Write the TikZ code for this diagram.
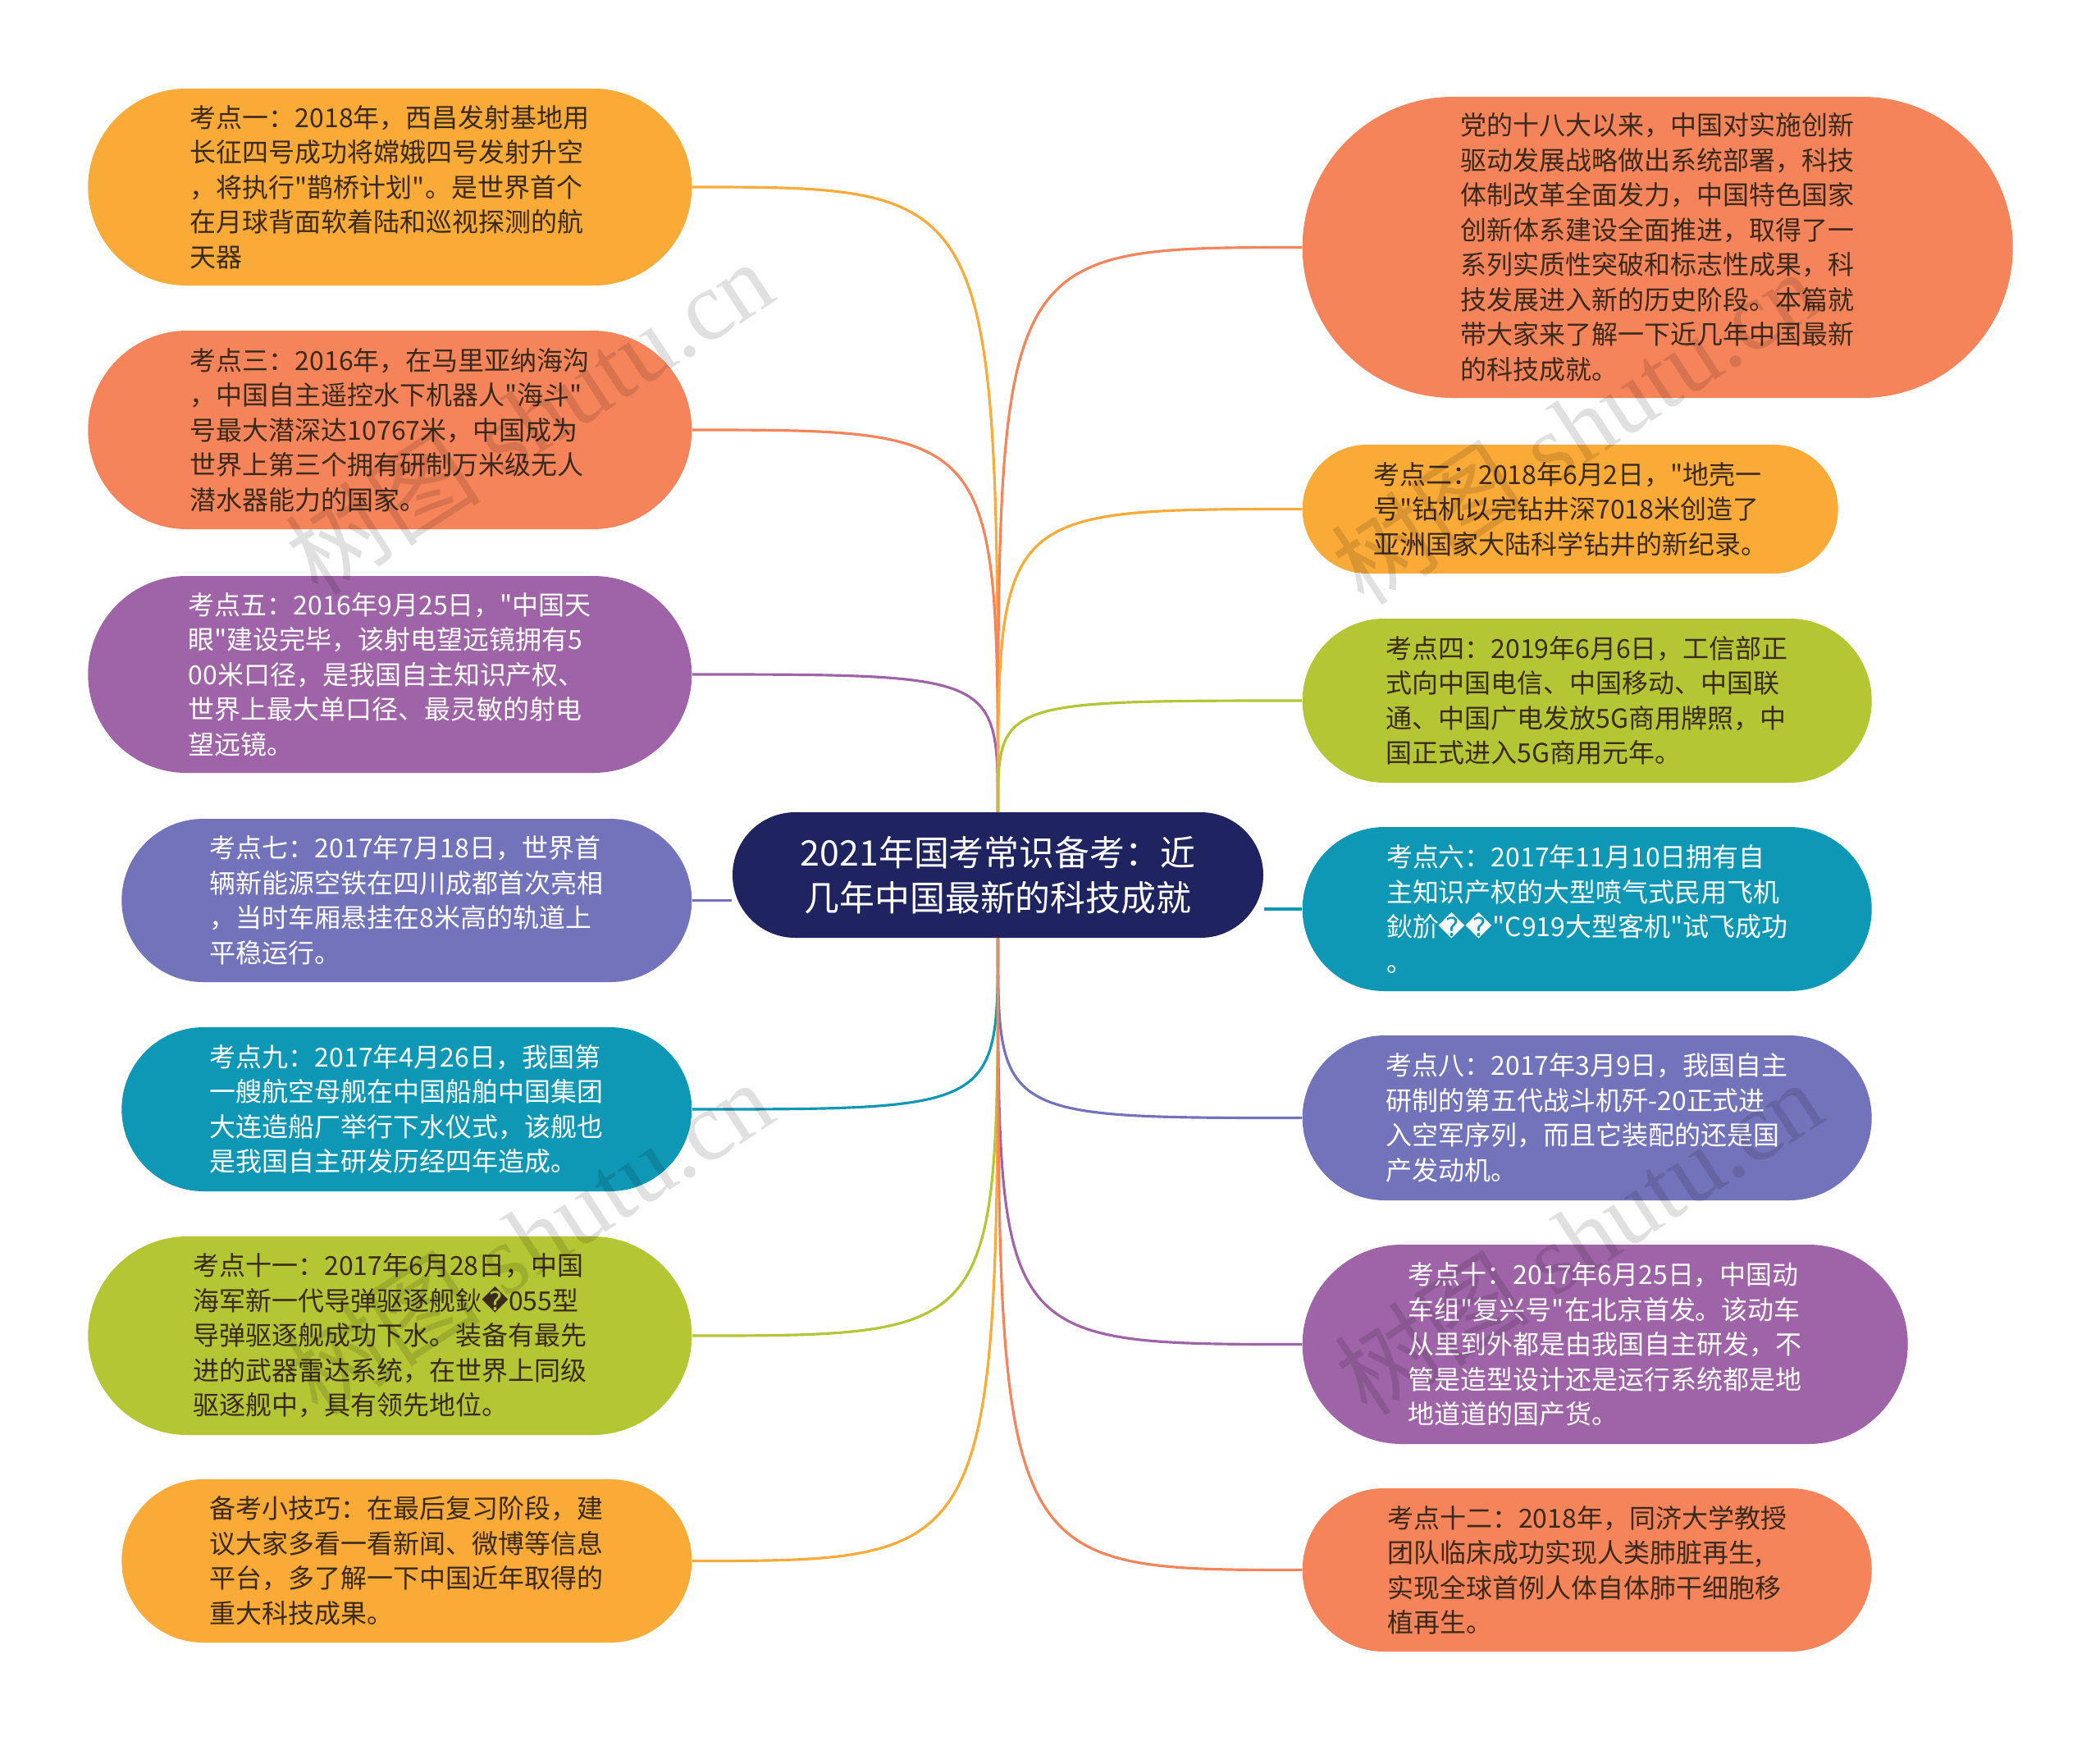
\documentclass[tikz,border=0pt]{standalone}
\usepackage{fontspec}
\setmainfont{Noto Sans CJK SC}[Ligatures=TeXOff]
\newfontfamily\replfont{DejaVu Sans}
\newfontfamily\wmfont{Liberation Serif}
\usetikzlibrary{shapes.misc}

\definecolor{kOrange}{HTML}{F9AA37}
\definecolor{kCoral}{HTML}{F5845A}
\definecolor{kPurple}{HTML}{9F64A8}
\definecolor{kLav}{HTML}{7373BB}
\definecolor{kTeal}{HTML}{0F98B5}
\definecolor{kLime}{HTML}{B4C633}
\definecolor{kNavy}{HTML}{1F2461}
\definecolor{kInk}{HTML}{3A2A1C}
\newcommand{\repchar}{{\replfont\char"FFFD}}

\begin{document}
\begin{tikzpicture}[
  leaf/.style={shape=rounded rectangle,inner sep=0pt,align=left,
    font=\fontsize{9.1pt}{12.1pt}\selectfont},
  wire/.style={line width=0.9pt}]
  \fill[white] (0,0) rectangle (25.6,-21.21);

  \node[shape=rounded rectangle,fill=kNavy,text=white,align=center,
    minimum width=6.47cm,minimum height=1.53cm,inner sep=0pt,
    font=\fontsize{12.2pt}{15.6pt}\selectfont] (root) at (12.165,-10.665)
    {2021年国考常识备考：近\\几年中国最新的科技成就};

  % left column
  \node[leaf,fill=kOrange,text=kInk,minimum width=7.36cm,minimum height=2.4cm,
    anchor=east] (k1) at (8.44,-2.28)
    {考点一：2018年，西昌发射基地用\\长征四号成功将嫦娥四号发射升空\\，将执行"鹊桥计划"。是世界首个\\在月球背面软着陆和巡视探测的航\\天器};
  \node[leaf,fill=kCoral,text=kInk,minimum width=7.36cm,minimum height=2.42cm,
    anchor=east] (k3) at (8.44,-5.24)
    {考点三：2016年，在马里亚纳海沟\\，中国自主遥控水下机器人"海斗"\\号最大潜深达10767米，中国成为\\世界上第三个拥有研制万米级无人\\潜水器能力的国家。};
  \node[leaf,fill=kPurple,text=white,minimum width=7.36cm,minimum height=2.4cm,
    anchor=east] (k5) at (8.44,-8.22)
    {考点五：2016年9月25日，"中国天\\眼"建设完毕，该射电望远镜拥有5\\00米口径，是我国自主知识产权、\\世界上最大单口径、最灵敏的射电\\望远镜。};
  \node[leaf,fill=kLav,text=white,minimum width=6.95cm,minimum height=1.99cm,
    anchor=east] (k7) at (8.44,-10.975)
    {考点七：2017年7月18日，世界首\\辆新能源空铁在四川成都首次亮相\\，当时车厢悬挂在8米高的轨道上\\平稳运行。};
  \node[leaf,fill=kTeal,text=white,minimum width=6.95cm,minimum height=2cm,
    anchor=east] (k9) at (8.44,-13.52)
    {考点九：2017年4月26日，我国第\\一艘航空母舰在中国船舶中国集团\\大连造船厂举行下水仪式，该舰也\\是我国自主研发历经四年造成。};
  \node[leaf,fill=kLime,text=kInk,minimum width=7.36cm,minimum height=2.42cm,
    anchor=east] (k11) at (8.44,-16.28)
    {考点十一：2017年6月28日，中国\\海军新一代导弹驱逐舰鈥\repchar 055型\\导弹驱逐舰成功下水。装备有最先\\进的武器雷达系统，在世界上同级\\驱逐舰中，具有领先地位。};
  \node[leaf,fill=kOrange,text=kInk,minimum width=6.95cm,minimum height=1.99cm,
    anchor=east] (tip) at (8.44,-19.025)
    {备考小技巧：在最后复习阶段，建\\议大家多看一看新闻、微博等信息\\平台，多了解一下中国近年取得的\\重大科技成果。};

  % right column
  \node[leaf,fill=kCoral,text=kInk,minimum width=8.66cm,minimum height=3.67cm,
    anchor=west] (intro) at (15.87,-3.015)
    {党的十八大以来，中国对实施创新\\驱动发展战略做出系统部署，科技\\体制改革全面发力，中国特色国家\\创新体系建设全面推进，取得了一\\系列实质性突破和标志性成果，科\\技发展进入新的历史阶段。本篇就\\带大家来了解一下近几年中国最新\\的科技成就。};
  \node[leaf,fill=kOrange,text=kInk,minimum width=6.53cm,minimum height=1.57cm,
    anchor=west] (k2) at (15.87,-6.205)
    {考点二：2018年6月2日，"地壳一\\号"钻机以完钻井深7018米创造了\\亚洲国家大陆科学钻井的新纪录。};
  \node[leaf,fill=kLime,text=kInk,minimum width=6.94cm,minimum height=2cm,
    anchor=west] (k4) at (15.87,-8.54)
    {考点四：2019年6月6日，工信部正\\式向中国电信、中国移动、中国联\\通、中国广电发放5G商用牌照，中\\国正式进入5G商用元年。};
  \node[leaf,fill=kTeal,text=white,minimum width=6.94cm,minimum height=2cm,
    anchor=west] (k6) at (15.87,-11.08)
    {考点六：2017年11月10日拥有自\\主知识产权的大型喷气式民用飞机\\鈥斺\repchar\repchar"C919大型客机"试飞成功\\。};
  \node[leaf,fill=kLav,text=white,minimum width=6.94cm,minimum height=2.01cm,
    anchor=west] (k8) at (15.87,-13.625)
    {考点八：2017年3月9日，我国自主\\研制的第五代战斗机歼-20正式进\\入空军序列，而且它装配的还是国\\产发动机。};
  \node[leaf,fill=kPurple,text=white,minimum width=7.38cm,minimum height=2.43cm,
    anchor=west] (k10) at (15.87,-16.385)
    {考点十：2017年6月25日，中国动\\车组"复兴号"在北京首发。该动车\\从里到外都是由我国自主研发，不\\管是造型设计还是运行系统都是地\\地道道的国产货。};
  \node[leaf,fill=kCoral,text=kInk,minimum width=6.94cm,minimum height=1.99cm,
    anchor=west] (k12) at (15.87,-19.135)
    {考点十二：2018年，同济大学教授\\团队临床成功实现人类肺脏再生,\\实现全球首例人体自体肺干细胞移\\植再生。};

  % connectors
  \foreach \n/\col in {k1/kOrange,k3/kCoral,k5/kPurple}
    \draw[wire,\col] (\n.east) .. controls (root.north |- \n.east) .. (root.north);
  \foreach \n/\col in {intro/kCoral,k2/kOrange,k4/kLime}
    \draw[wire,\col] (\n.west) .. controls (root.north |- \n.west) .. (root.north);
  \foreach \n/\col in {k9/kTeal,k11/kLime,tip/kOrange}
    \draw[wire,\col] (\n.east) .. controls (root.south |- \n.east) .. (root.south);
  \foreach \n/\col in {k8/kLav,k10/kPurple,k12/kCoral}
    \draw[wire,\col] (\n.west) .. controls (root.south |- \n.west) .. (root.south);
  \draw[wire,kLav] (k7.east) -- (k7.east -| root.west);
  \draw[wire,kTeal] (k6.west) -- (k6.west -| root.east);

  % watermarks
  \foreach \i/\x/\y in {1/6.45/-5.08,2/19.2/-5.2,3/6.45/-15.08,4/19.24/-15.08}
    \node[rotate=33,text=black,text opacity=0.12,
      font=\fontsize{34pt}{34pt}\selectfont] (wm\i) at (\x,\y)
      {树图{\wmfont\ shutu.cn}};
\end{tikzpicture}
\end{document}
